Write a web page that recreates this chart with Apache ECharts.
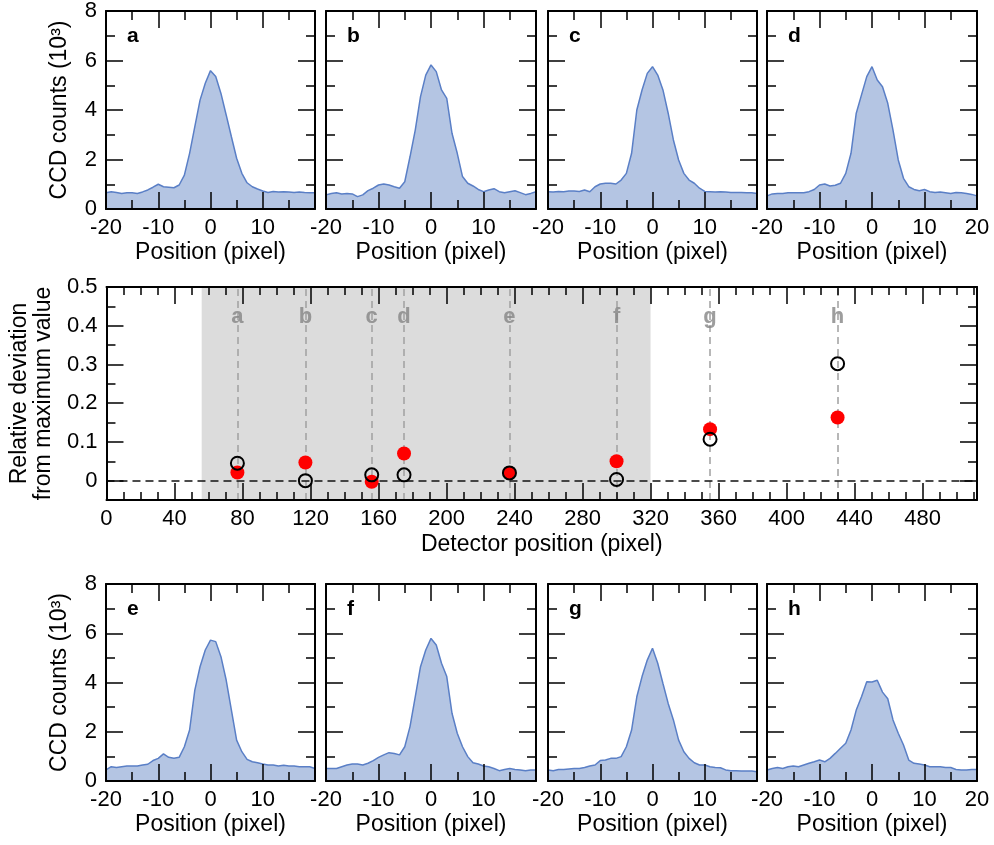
<!DOCTYPE html>
<html><head><meta charset="utf-8">
<script src="https://cdn.jsdelivr.net/npm/echarts@6/dist/echarts.min.js"></script>
<style>html,body{margin:0;padding:0;background:#fff}#c{width:994px;height:845px}</style>
</head><body><div id="c"></div>
<script>
// ---------------- DATA ----------------
const positions = [-20,-19,-18,-17,-16,-15,-14,-13,-12,-11,-10,-9,-8,-7,-6,-5,-4,-3,-2,-1,0,1,2,3,4,5,6,7,8,9,10,11,12,13,14,15,16,17,18,19,20];
const profileA = [0.66,0.70,0.67,0.63,0.66,0.66,0.63,0.69,0.77,0.88,1.00,0.90,0.88,0.86,0.97,1.37,2.25,3.33,4.40,5.08,5.59,5.35,4.67,3.80,2.92,2.05,1.44,1.06,0.90,0.81,0.73,0.67,0.71,0.69,0.70,0.69,0.67,0.69,0.67,0.66,0.66];
const profileB = [0.57,0.63,0.66,0.61,0.63,0.61,0.50,0.57,0.74,0.84,0.97,1.01,0.97,0.90,0.84,1.10,2.11,3.19,4.54,5.41,5.82,5.55,4.81,4.47,3.06,2.25,1.31,1.04,0.93,0.79,0.70,0.77,0.82,0.70,0.66,0.70,0.74,0.66,0.58,0.63,0.70];
const profileC = [0.70,0.69,0.71,0.70,0.73,0.73,0.71,0.77,0.70,0.90,1.01,1.04,1.04,1.01,1.17,1.44,2.25,4.00,4.81,5.48,5.75,5.41,4.81,3.87,2.79,1.98,1.44,1.17,1.04,0.84,0.71,0.70,0.69,0.70,0.69,0.67,0.67,0.67,0.66,0.66,0.63];
const profileD = [0.53,0.61,0.63,0.63,0.66,0.66,0.66,0.66,0.70,0.79,0.97,1.01,0.93,0.96,1.04,1.44,2.25,3.87,4.61,5.35,5.75,5.21,4.94,4.27,3.19,1.98,1.24,0.90,0.79,0.74,0.79,0.70,0.67,0.69,0.66,0.63,0.67,0.66,0.63,0.59,0.53];
const profileE = [0.45,0.58,0.55,0.58,0.61,0.61,0.61,0.65,0.68,0.83,0.92,1.10,0.96,0.92,0.96,1.39,2.07,3.69,4.64,5.32,5.72,5.66,5.05,4.10,2.88,1.66,1.19,0.88,0.78,0.74,0.69,0.65,0.65,0.61,0.64,0.61,0.61,0.58,0.58,0.58,0.51];
const profileF = [0.51,0.51,0.51,0.58,0.65,0.69,0.69,0.65,0.72,0.83,0.96,1.06,1.15,1.12,1.06,1.39,2.21,3.42,4.64,5.32,5.79,5.52,4.78,4.24,2.75,1.94,1.39,0.99,0.74,0.69,0.61,0.58,0.51,0.42,0.47,0.51,0.47,0.45,0.42,0.45,0.45];
const profileG = [0.45,0.42,0.47,0.47,0.49,0.51,0.51,0.55,0.61,0.65,0.83,0.85,0.92,0.92,0.99,1.39,2.07,3.42,4.24,4.91,5.39,4.78,3.96,3.15,2.48,1.66,1.19,0.92,0.74,0.65,0.65,0.58,0.55,0.54,0.45,0.42,0.42,0.41,0.41,0.41,0.38];
const profileH = [0.45,0.51,0.55,0.51,0.58,0.61,0.58,0.65,0.72,0.78,0.85,0.78,0.92,1.12,1.33,1.53,2.07,2.88,3.42,4.03,4.02,4.09,3.61,3.34,2.48,1.94,1.46,0.85,0.72,0.69,0.65,0.58,0.58,0.58,0.55,0.55,0.47,0.45,0.45,0.47,0.47];

const panelLetters = ['a','b','c','d','e','f','g','h'];
const detectorPos = [77, 117, 156, 175, 237, 300, 355, 430];
const devFilled   = [0.021, 0.047, -0.003, 0.070, 0.020, 0.050, 0.133, 0.163];
const devOpen     = [0.045, 0.000, 0.015, 0.015, 0.020, 0.003, 0.107, 0.302];
const shadeRange  = [56, 320];

const detMajorTicks = [0,40,80,120,160,200,240,280,320,360,400,440,480];
const detMinorTicks = [10,20,30,50,60,70,90,100,110,130,140,150,170,180,190,210,220,230,250,260,270,290,300,310,330,340,350,370,380,390,410,420,430,450,460,470,490,500,510];
const devMajorTicks = [0,0.1,0.2,0.3,0.4,0.5];
const devMinorTicks = [-0.05,0.05,0.15,0.25,0.35,0.45];

// ---------------- STYLE / LAYOUT ----------------
const FONT = '"Liberation Sans", Arial, Helvetica, sans-serif';
const BLACK = '#000';
const tickFont = {fontSize:22, color:BLACK, fontFamily:FONT};
const nameFont = {fontSize:23, color:BLACK, fontFamily:FONT};
const frameLine = {show:true, onZero:false, lineStyle:{color:BLACK, width:2}};
const noLine = {show:false, onZero:false};
const majorTick = (len) => ({show:true, inside:true, length:len, lineStyle:{color:BLACK, width:1.5}});

const grids = [], xAxes = [], yAxes = [], series = [], graphics = [];

const profiles = [profileA, profileB, profileC, profileD, profileE, profileF, profileG, profileH];
const colLefts = [106, 326, 548, 767];
const colWidths = [209, 210, 209, 210];
const rowTops = [11, 584];
const rowHeights = [198, 197];

function profilePanel(i) {
  const row = i < 4 ? 0 : 1, col = i % 4;
  const g = grids.length;
  const left = colLefts[col], top = rowTops[row];
  grids.push({left:left, top:top, width:colWidths[col], height:rowHeights[row]});
  const xi = xAxes.length, yi = yAxes.length;
  const xBase = {type:'value', gridIndex:g, min:-20, max:20, interval:10, z:20,
    splitLine:{show:false}, axisLine:frameLine, axisTick:majorTick(17),
    minorTick:{show:true, splitNumber:2, length:9, lineStyle:{color:BLACK, width:1.5}}};
  xAxes.push(Object.assign({}, xBase, {position:'bottom',
    axisLabel:Object.assign({show:true, margin:8, showMaxLabel: col === 3, showMinLabel:true}, tickFont),
    name:'Position (pixel)', nameLocation:'middle', nameGap:32, nameTextStyle:nameFont}));
  xAxes.push(Object.assign({}, xBase, {position:'top', axisLabel:{show:false}}));
  const yBase = {type:'value', gridIndex:g, min:0, max:8, interval:2, z:20,
    splitLine:{show:false}, axisLine:frameLine, axisTick:majorTick(17),
    minorTick:{show:true, splitNumber:2, length:9, lineStyle:{color:BLACK, width:1.5}}};
  const yLeft = Object.assign({}, yBase, {position:'left',
    axisLabel:Object.assign({show: col === 0, margin:9}, tickFont)});
  if (col === 0) {
    yLeft.name = 'CCD counts (10\u00B3)';
    yLeft.nameLocation = 'middle';
    yLeft.nameGap = 35;
    yLeft.nameTextStyle = nameFont;
  }
  yAxes.push(yLeft);
  yAxes.push(Object.assign({}, yBase, {position:'right', axisLabel:{show:false}}));
  series.push({type:'line', xAxisIndex:xi, yAxisIndex:yi, z:2,
    data: positions.map((p, k) => [p, profiles[i][k]]),
    symbol:'none', smooth:false, silent:true,
    lineStyle:{color:'#5a7fc6', width:1.5},
    areaStyle:{color:'#b4c5e3', opacity:1}});
  graphics.push({type:'text', left:left + 21, top:top + 15, z:10,
    style:{text:panelLetters[i], fill:BLACK, font:'bold 21px ' + FONT}});
}

for (let i = 0; i < 8; i++) profilePanel(i);

// ---------- middle panel ----------
(function () {
  const g = grids.length;
  grids.push({left:104, top:287, width:873, height:213});
  const xi = xAxes.length, yi = yAxes.length;
  const xB = {type:'value', gridIndex:g, min:0, max:512, z:20, splitLine:{show:false}};
  xAxes.push(Object.assign({}, xB, {position:'bottom', axisLine:frameLine,
    axisTick:Object.assign(majorTick(17), {customValues:detMajorTicks}),
    axisLabel:Object.assign({show:true, margin:8, customValues:detMajorTicks}, tickFont),
    name:'Detector position (pixel)', nameLocation:'middle', nameGap:33, nameTextStyle:nameFont}));
  xAxes.push(Object.assign({}, xB, {position:'bottom', axisLine:noLine,
    axisTick:Object.assign(majorTick(8), {customValues:detMinorTicks}), axisLabel:{show:false}}));
  xAxes.push(Object.assign({}, xB, {position:'top', axisLine:frameLine,
    axisTick:Object.assign(majorTick(17), {customValues:detMajorTicks}), axisLabel:{show:false}}));
  xAxes.push(Object.assign({}, xB, {position:'top', axisLine:noLine,
    axisTick:Object.assign(majorTick(8), {customValues:detMinorTicks}), axisLabel:{show:false}}));
  const yB = {type:'value', gridIndex:g, min:-0.05, max:0.5, z:20, splitLine:{show:false}};
  yAxes.push(Object.assign({}, yB, {position:'left', axisLine:frameLine,
    axisTick:Object.assign(majorTick(17), {customValues:devMajorTicks}),
    axisLabel:Object.assign({show:true, margin:9, customValues:devMajorTicks}, tickFont),
    name:'Relative deviation\nfrom maximum value', nameLocation:'middle', nameGap:50,
    nameTextStyle:Object.assign({lineHeight:24}, nameFont)}));
  yAxes.push(Object.assign({}, yB, {position:'left', axisLine:noLine,
    axisTick:Object.assign(majorTick(9), {customValues:devMinorTicks}), axisLabel:{show:false}}));
  yAxes.push(Object.assign({}, yB, {position:'right', axisLine:frameLine,
    axisTick:Object.assign(majorTick(17), {customValues:devMajorTicks}), axisLabel:{show:false}}));
  yAxes.push(Object.assign({}, yB, {position:'right', axisLine:noLine,
    axisTick:Object.assign(majorTick(9), {customValues:devMinorTicks}), axisLabel:{show:false}}));

  // shaded region
  series.push({type:'scatter', xAxisIndex:xi, yAxisIndex:yi, z:1, data:[], silent:true,
    markArea:{silent:true, z:1, itemStyle:{color:'#dcdcdc'}, label:{show:false},
      data:[[{xAxis:shadeRange[0]}, {xAxis:shadeRange[1]}]]}});
  // vertical dashed guide lines + letters
  series.push({type:'scatter', xAxisIndex:xi, yAxisIndex:yi, z:3, silent:true,
    symbolSize:0,
    data: detectorPos.map((x, k) => ({value:[x, 0.423], name:panelLetters[k]})),
    label:{show:true, position:'inside', formatter:(p) => p.name,
      color:'#858585', fontSize:22, fontWeight:'bold', fontFamily:FONT},
    markLine:{silent:true, z:2, symbol:'none', label:{show:false},
      lineStyle:{color:'#a0a0a0', type:[7,5], width:1.5},
      data: detectorPos.map(x => ({xAxis:x}))}});
  // zero line
  series.push({type:'scatter', xAxisIndex:xi, yAxisIndex:yi, z:2, data:[], silent:true,
    markLine:{silent:true, z:2, symbol:'none', label:{show:false},
      lineStyle:{color:'#111', type:[8,5], width:1.5},
      data:[{yAxis:0}]}});
  // red filled
  series.push({type:'scatter', xAxisIndex:xi, yAxisIndex:yi, z:6, silent:true,
    symbol:'circle', symbolSize:14,
    data: detectorPos.map((x, k) => [x, devFilled[k]]),
    itemStyle:{color:'#ff0000', opacity:1}});
  // black open
  series.push({type:'scatter', xAxisIndex:xi, yAxisIndex:yi, z:7, silent:true,
    symbol:'circle', symbolSize:13,
    data: detectorPos.map((x, k) => [x, devOpen[k]]),
    itemStyle:{color:'rgba(0,0,0,0)', borderColor:'#000', borderWidth:2, opacity:1}});
})();

const chart = echarts.init(document.getElementById('c'), null, {renderer:'canvas'});
chart.setOption({
  animation:false,
  backgroundColor:'#fff',
  textStyle:{fontFamily:FONT},
  grid:grids, xAxis:xAxes, yAxis:yAxes, series:series, graphic:graphics
});
</script></body></html>
